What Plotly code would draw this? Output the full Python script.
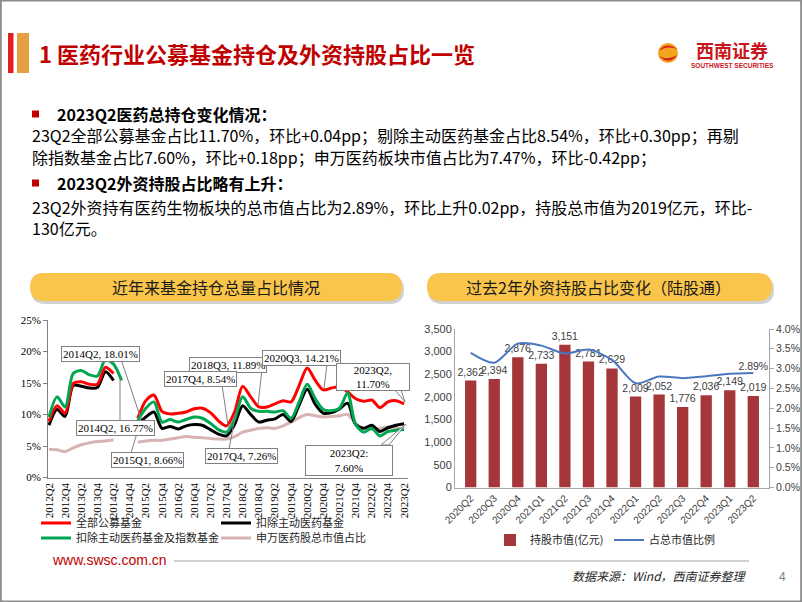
import plotly.graph_objects as go

W, H = 802, 602
def px(x): return x / W
def py(y): return 1 - y / H

CJK = "Noto Sans CJK SC"
SERIF = "Liberation Serif"
SANS = "Liberation Sans"

# ---------------- data: left chart ----------------
quarters = ["2012Q2", "2012Q3", "2012Q4", "2013Q1", "2013Q2", "2013Q3", "2013Q4",
            "2014Q1", "2014Q2", "2014Q3", "2014Q4", "2015Q1", "2015Q2", "2015Q3", "2015Q4",
            "2016Q1", "2016Q2", "2016Q3", "2016Q4", "2017Q1", "2017Q2", "2017Q3", "2017Q4",
            "2018Q1", "2018Q2", "2018Q3", "2018Q4", "2019Q1", "2019Q2", "2019Q3", "2019Q4",
            "2020Q1", "2020Q2", "2020Q3", "2020Q4", "2021Q1", "2021Q2", "2021Q3", "2021Q4",
            "2022Q1", "2022Q2", "2022Q3", "2022Q4", "2023Q1", "2023Q2"]
all_funds = [8.9, 11.4, 10.2, 14.9, 15.2, 14.8, 14.8, 17.5, 16.5, None, None,
             9.4, 12.2, 13.1, 10.5, 10.1, 10.2, 10.4, 10.9, 11.0, 10.3, 9.0, 8.2,
             10.4, 14.5, 12.8, 11.2, 11.2, 11.7, 12.2, 12.0, 14.6, 17.4, 15.4, 13.9,
             14.2, 14.4, 13.6, 12.5, 12.1, 12.3, 11.1, 12.0, 12.2, 11.7]
ex_active = [8.3, 10.8, 9.7, 14.6, 14.5, 14.2, 14.3, 16.8, 15.4, None, None,
             8.4, 9.6, 10.4, 7.8, 8.1, 7.7, 8.2, 8.4, 8.3, 7.6, 6.9, 6.6,
             8.4, 11.4, 10.0, 8.8, 9.1, 9.3, 10.0, 8.9, 11.5, 14.0, 11.6, 10.2,
             10.3, 10.9, 11.8, 8.4, 7.8, 8.3, 7.3, 7.9, 8.3, 8.54]
ex_active_index = [9.6, 12.8, 11.2, 16.5, 17.0, 16.3, 16.1, 18.7, 18.0, 15.4, None,
                   9.0, 11.0, 12.0, 8.8, 9.2, 8.8, 9.2, 9.6, 9.4, 8.6, 7.6, 7.2,
                   9.2, 12.8, 11.0, 10.5, 10.5, 10.4, 10.6, 9.4, 12.0, 14.8, 12.5, 10.8,
                   10.6, 11.0, 13.4, 8.4, 7.2, 7.8, 6.6, 7.3, 7.5, 7.6]
sw_pharma = [4.5, 4.4, 4.1, 4.7, 5.2, 5.5, 5.7, 5.8, 6.0, None, None,
             5.6, 5.8, 5.9, 5.9, 6.1, 6.3, 6.5, 6.4, 6.3, 6.2, 6.1, 6.1,
             6.5, 7.2, 7.5, 7.8, 7.9, 7.8, 8.2, 8.8, 9.5, 10.0, 9.8, 9.6,
             9.7, 9.8, 10.0, 8.6, 7.8, 7.6, 7.8, 8.0, 7.9, 7.7]
left_ticks = ["2012Q2", "2012Q4", "2013Q2", "2013Q4", "2014Q2", "2014Q4", "2015Q2",
              "2015Q4", "2016Q2", "2016Q4", "2017Q2", "2017Q4", "2018Q2", "2018Q4",
              "2019Q2", "2019Q4", "2020Q2", "2020Q4", "2021Q2", "2021Q4", "2022Q2",
              "2022Q4", "2023Q2"]
left_yticks = [0, 5, 10, 15, 20, 25]
left_ytick_text = ["0%", "5%", "10%", "15%", "20%", "25%"]

# ---------------- data: right chart ----------------
r_quarters = ["2020Q2", "2020Q3", "2020Q4", "2021Q1", "2021Q2", "2021Q3", "2021Q4",
              "2022Q1", "2022Q2", "2022Q3", "2022Q4", "2023Q1", "2023Q2"]
holdings = [2362, 2394, 2876, 2733, 3151, 2781, 2629, 2009, 2052, 1776, 2036, 2149, 2019]
ratio = [3.40, 3.15, 3.63, 3.58, 3.38, 3.48, 3.22, 2.63, 2.80, 2.76, 2.81, 2.87, 2.89]
ratio_text = [""] * (len(ratio) - 1) + [f"{ratio[-1]:.2f}%"]
right_ticks = [0, 0.5, 1.0, 1.5, 2.0, 2.5, 3.0, 3.5, 4.0]
right_tick_text = ["0.0%", "0.5%", "1.0%", "1.5%", "2.0%", "2.5%", "3.0%", "3.5%", "4.0%"]

fig = go.Figure()

# left chart lines
line_specs = [
    ("申万医药股总市值占比", sw_pharma, "#D8B3B3", "legend2"),
    ("扣除主动医药基金", ex_active, "#000000", "legend"),
    ("全部公募基金", all_funds, "#FF0000", "legend"),
    ("扣除主动医药基金及指数基金", ex_active_index, "#00A651", "legend2"),
]
for name, vals, color, lg in line_specs:
    fig.add_trace(go.Scatter(
        x=quarters, y=vals, name=name, mode="lines", connectgaps=False,
        line=dict(color=color, width=3, shape="spline", smoothing=0.8),
        xaxis="x", yaxis="y", legend=lg, hoverinfo="skip"))

# right chart
fig.add_trace(go.Bar(
    x=r_quarters, y=holdings, name="持股市值(亿元)", xaxis="x2", yaxis="y2",
    marker=dict(color="#A5373A", line=dict(width=0)), width=0.48,
    texttemplate="%{y:,.0f}", textposition="outside", cliponaxis=False, constraintext="none",
    textfont=dict(family=SANS, size=10.5, color="#404040"), legend="legend3", hoverinfo="skip"))
fig.add_trace(go.Scatter(
    x=r_quarters, y=ratio, name="占总市值比例", xaxis="x2", yaxis="y3",
    mode="lines+text", text=ratio_text, textposition="top center", cliponaxis=False,
    textfont=dict(family=SANS, size=10.5, color="#404040"),
    line=dict(color="#4A78BE", width=2, shape="spline", smoothing=0.8), legend="legend3",
    hoverinfo="skip"))

# ---------------- shapes ----------------
def X(x): return round(px(x), 5)
def Y(y): return round(py(y), 5)

def rrect(x0, y0, x1, y1, r):
    return (f"M{X(x0+r)},{Y(y0)} L{X(x1-r)},{Y(y0)} Q{X(x1)},{Y(y0)} {X(x1)},{Y(y0+r)} "
            f"L{X(x1)},{Y(y1-r)} Q{X(x1)},{Y(y1)} {X(x1-r)},{Y(y1)} L{X(x0+r)},{Y(y1)} "
            f"Q{X(x0)},{Y(y1)} {X(x0)},{Y(y1-r)} L{X(x0)},{Y(y0+r)} Q{X(x0)},{Y(y0)} {X(x0+r)},{Y(y0)} Z")

shapes = []
def rect(x0, y0, x1, y1, fill, line=None, lw=0):
    shapes.append(dict(type="rect", xref="paper", yref="paper", x0=X(x0), x1=X(x1),
                       y0=Y(y1), y1=Y(y0), fillcolor=fill,
                       line=dict(color=line or fill, width=lw), layer="below"))
def seg(x0, y0, x1, y1, color="#808080", w=1, layer="above"):
    shapes.append(dict(type="line", xref="paper", yref="paper", x0=X(x0), y0=Y(y0),
                       x1=X(x1), y1=Y(y1), line=dict(color=color, width=w), layer=layer))

# slide frame
shapes.append(dict(type="rect", xref="paper", yref="paper", x0=0.001, x1=0.999, y0=0.001, y1=0.999,
                   line=dict(color="#8C8C8C", width=2), fillcolor="rgba(0,0,0,0)", layer="below"))
# title bars
rect(8, 33, 13.5, 73, "#E02020")
rect(17, 33, 29, 73, "#E6A041")
# logo
shapes.append(dict(type="circle", xref="paper", yref="paper", x0=X(658), x1=X(678), y0=Y(63), y1=Y(43),
                   fillcolor="#F4A51F", line=dict(width=0)))
shapes.append(dict(type="path", xref="paper", yref="paper",
                   path=f"M{X(658.5)},{Y(51)} Q{X(666)},{Y(41)} {X(677.5)},{Y(49)} Q{X(667)},{Y(45)} {X(658.5)},{Y(51)} Z",
                   fillcolor="#D7261E", line=dict(width=0)))
shapes.append(dict(type="path", xref="paper", yref="paper",
                   path=f"M{X(659)},{Y(56)} Q{X(669)},{Y(66)} {X(677.5)},{Y(55)} Q{X(668)},{Y(61)} {X(659)},{Y(56)} Z",
                   fillcolor="#D7261E", line=dict(width=0)))
# bullets
rect(32, 110.5, 39, 117.5, "#C00000")
rect(32, 179.5, 39, 186.5, "#C00000")
# pills with shadow
for (x0, x1) in [(30, 402), (427, 772)]:
    shapes.append(dict(type="path", xref="paper", yref="paper", path=rrect(x0 + 1, 276, x1 + 2, 304, 14),
                       fillcolor="rgba(0,0,0,0.18)", line=dict(width=0), layer="below"))
    shapes.append(dict(type="path", xref="paper", yref="paper", path=rrect(x0, 273, x1, 301, 14),
                       fillcolor="#F9C64B", line=dict(width=0), layer="below"))
# footer line
seg(174, 561, 749, 561, color="#BFBFBF", w=1.5, layer="below")

# leader lines of left chart labels
seg(122, 362, 141, 419)
seg(120, 378, 120, 433)
seg(131, 453, 141, 420)
seg(222, 385, 229, 432)
seg(229, 449, 236, 412)
seg(262, 369, 258, 405)
seg(327, 364, 324, 389)
shapes.append(dict(type="path", xref="paper", yref="paper",
                   path=f"M{X(395)},{Y(390)} L{X(405)},{Y(402)} L{X(401)},{Y(390)} Z",
                   fillcolor="white", line=dict(color="#808080", width=1)))
shapes.append(dict(type="path", xref="paper", yref="paper",
                   path=f"M{X(381)},{Y(445)} L{X(406)},{Y(424)} L{X(389)},{Y(445)} Z",
                   fillcolor="white", line=dict(color="#808080", width=1)))

# ---------------- annotations ----------------
ann = []
def text(t, x, y, size, color="#000000", family=CJK, xanchor="left", **kw):
    ann.append(dict(text=t, x=X(x), y=Y(y), xref="paper", yref="paper", showarrow=False,
                    xanchor=xanchor, yanchor="middle", font=dict(family=family, size=size, color=color), **kw))

text("<b>1 医药行业公募基金持仓及外资持股占比一览</b>", 37, 53, 22, "#C00000")
text("<b>西南证券</b>", 732, 50, 18, "#C8161D", xanchor="center")
text("<b>SOUTHWEST SECURITIES</b>", 732, 66, 6.5, "#C8161D", family=SANS, xanchor="center")

text("<b>2023Q2医药总持仓变化情况：</b>", 55, 114, 16)
text("23Q2全部公募基金占比11.70%，环比+0.04pp；剔除主动医药基金占比8.54%，环比+0.30pp；再剔", 30, 135, 16)
text("除指数基金占比7.60%，环比+0.18pp；申万医药板块市值占比为7.47%，环比-0.42pp；", 30, 157, 16)
text("<b>2023Q2外资持股占比略有上升：</b>", 55, 183, 16)
text("23Q2外资持有医药生物板块的总市值占比为2.89%，环比上升0.02pp，持股总市值为2019亿元，环比-", 30, 207, 16)
text("130亿元。", 30, 228, 16)

text("近年来基金持仓总量占比情况", 216, 287, 16, "#1A1A1A", xanchor="center")
text("过去2年外资持股占比变化（陆股通）", 599, 287, 16, "#1A1A1A", xanchor="center")

text("www.swsc.com.cn", 50, 560, 14, "#C00000", family=SANS)
text("<i>数据来源：Wind，西南证券整理</i>", 749, 576, 12, "#262626", xanchor="right")
text("4", 777, 577, 12, "#7F7F7F", family=SANS)

def box(t, cx, cy, w=None, h=None):
    d = dict(text=t, x=X(cx), y=Y(cy), xref="paper", yref="paper", showarrow=False,
             xanchor="center", yanchor="middle", bgcolor="white", bordercolor="#808080",
             borderwidth=1, borderpad=1, font=dict(family=SERIF, size=11, color="#000000"))
    if w: d["width"] = w
    if h: d["height"] = h
    ann.append(d)

box("2014Q2, 18.01%", 100, 353.5)
box("2014Q2, 16.77%", 115.5, 428.5)
box("2015Q1, 8.66%", 147.5, 460)
box("2018Q3, 11.89%", 227.5, 365.5)
box("2017Q4, 8.54%", 201, 379)
box("2017Q4, 7.26%", 241.5, 456)
box("2020Q3, 14.21%", 301.5, 358.5)
box("2023Q2,<br>11.70%", 373.5, 376.5, w=70, h=24)
box("2023Q2:<br>7.60%", 348.5, 460, w=84, h=27)

legend_common = dict(orientation="h", xanchor="left", yanchor="middle", bgcolor="rgba(0,0,0,0)",
                     font=dict(family=CJK, size=11, color="#262626"), itemwidth=30,
                     entrywidthmode="pixels", borderwidth=0)

fig.update_layout(
    template="none",
    width=W, height=H, margin=dict(l=0, r=0, t=0, b=0, autoexpand=False),
    paper_bgcolor="white", plot_bgcolor="white",
    showlegend=True, bargap=0.52,
    shapes=shapes, annotations=ann,
    legend=dict(x=X(36), y=Y(523), entrywidth=135, traceorder="reversed", **legend_common),
    legend2=dict(x=X(36), y=Y(538), entrywidth=135, traceorder="reversed", **legend_common),
    legend3=dict(x=X(490), y=Y(540), entrywidth=74, **legend_common),
    xaxis=dict(domain=[px(48), px(408)], anchor="y", type="category", range=[-0.12, 44.49],
               tickmode="array", tickvals=left_ticks, tickangle=-90, automargin=False,
               tickfont=dict(family=SERIF, size=11, color="#000000"),
               showline=True, linecolor="#808080", linewidth=1, showgrid=False, zeroline=False, ticks=""),
    yaxis=dict(domain=[py(477.5), py(320)], anchor="x", range=[0, 25], tickmode="array",
               tickvals=left_yticks, ticktext=left_ytick_text, automargin=False,
               tickfont=dict(family=SERIF, size=11, color="#000000"),
               showline=True, linecolor="#808080", ticks="outside", ticklen=4, tickcolor="#808080",
               showgrid=False, zeroline=False),
    xaxis2=dict(domain=[px(455), px(769)], anchor="y2", type="category", tickangle=-45, automargin=False,
                tickfont=dict(family=SANS, size=10, color="#404040"),
                showline=True, linecolor="#A6A6A6", ticks="", showgrid=False, zeroline=False),
    yaxis2=dict(domain=[py(487.5), py(329)], anchor="x2", range=[0, 3500], dtick=500, tickformat=",",
                automargin=False, tickfont=dict(family=SANS, size=11, color="#404040"),
                showline=True, linecolor="#A6A6A6", ticks="", showgrid=False, zeroline=False),
    yaxis3=dict(overlaying="y2", side="right", anchor="x2", range=[0, 4], tickmode="array",
                tickvals=right_ticks, ticktext=right_tick_text, automargin=False,
                tickfont=dict(family=SANS, size=10.5, color="#404040"),
                showline=True, linecolor="#A6A6A6", ticks="outside", ticklen=4, tickcolor="#A6A6A6",
                showgrid=False, zeroline=False),
)

fig.write_html("out.html", config={"displayModeBar": False},
               post_script="document.body.style.margin='0';document.body.style.overflow='hidden';")
